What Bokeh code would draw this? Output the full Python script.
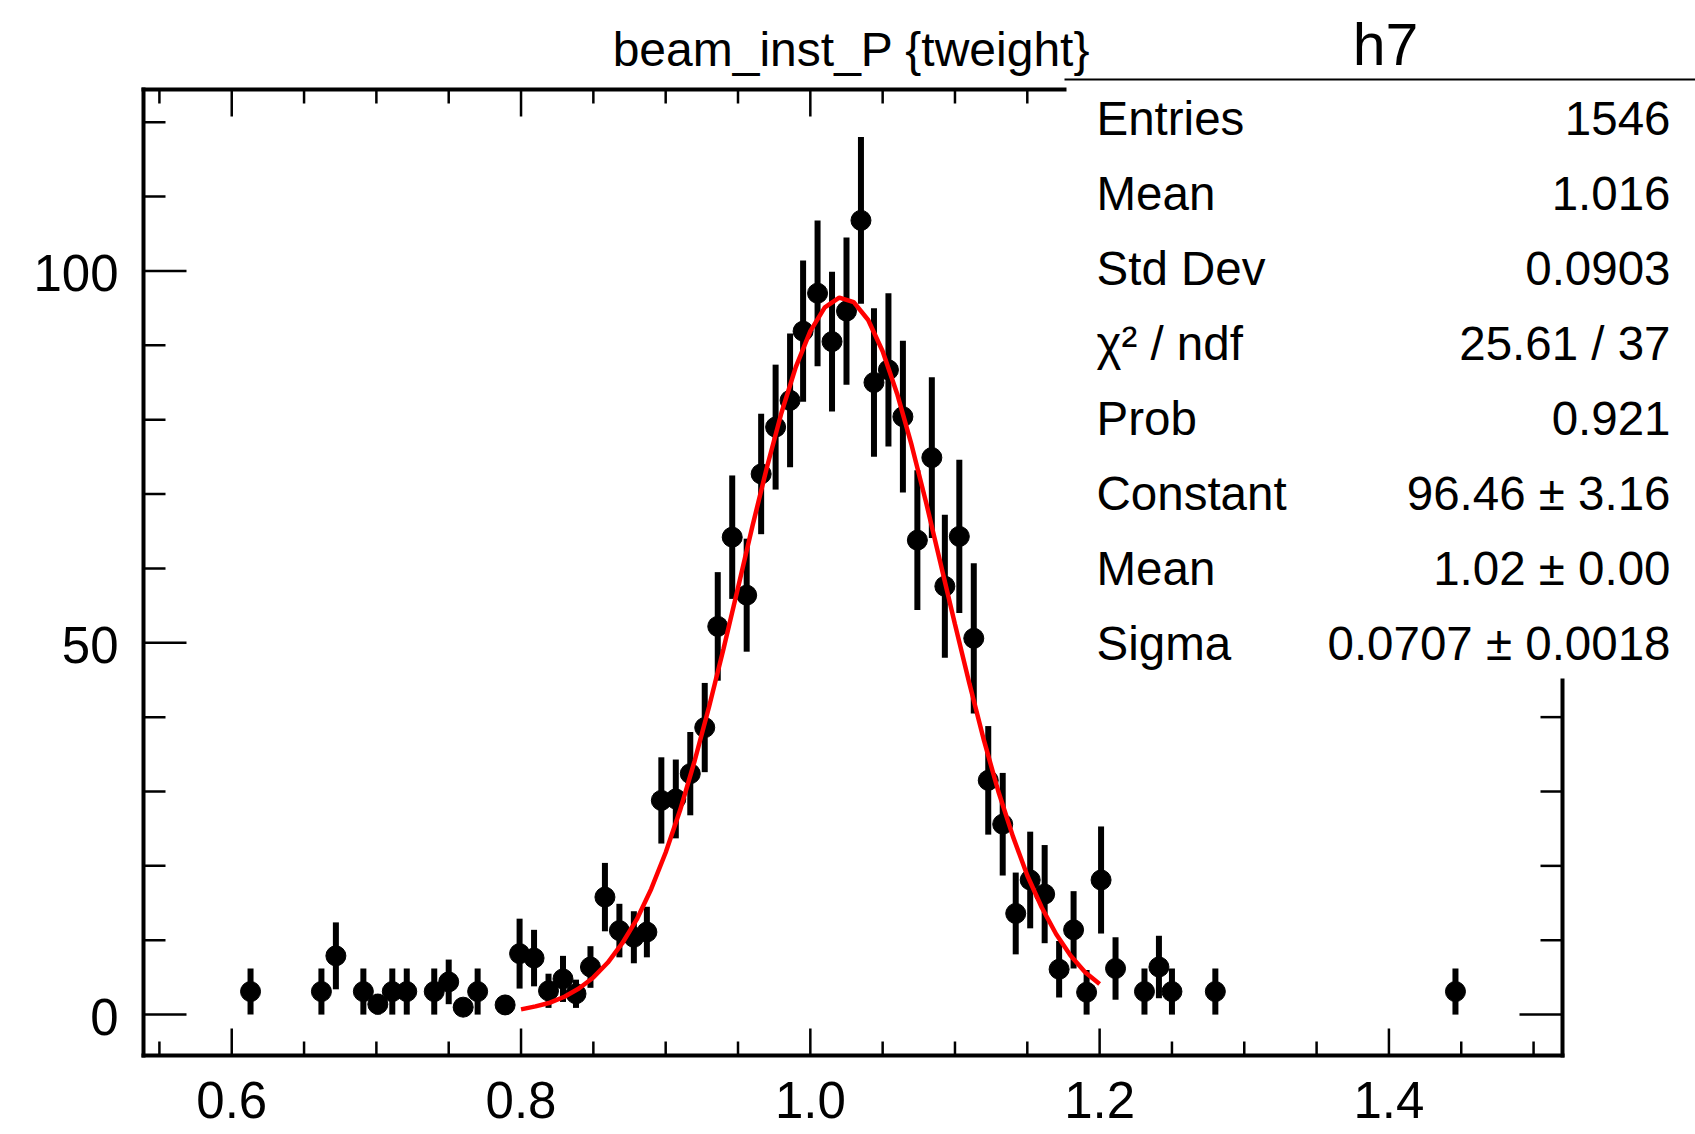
from bokeh.plotting import figure
from bokeh.models import Range1d, ColumnDataSource
from bokeh.core.properties import value
from bokeh.embed import file_html
from bokeh.resources import INLINE

# ---------------- data ----------------
bin_x = [0.613, 0.662, 0.672, 0.691, 0.701, 0.711, 0.721, 0.740, 0.750, 0.760,
         0.770, 0.789, 0.799, 0.809, 0.819, 0.829, 0.838, 0.848, 0.858, 0.868,
         0.878, 0.887, 0.897, 0.907, 0.917, 0.927, 0.936, 0.946, 0.956, 0.966,
         0.976, 0.986, 0.995, 1.005, 1.015, 1.025, 1.035, 1.044, 1.054, 1.064,
         1.074, 1.084, 1.093, 1.103, 1.113, 1.123, 1.133, 1.142, 1.152, 1.162,
         1.172, 1.182, 1.191, 1.201, 1.211, 1.231, 1.241, 1.250, 1.280, 1.446]
bin_y = [3.1, 3.1, 7.9, 3.1, 1.4, 3.1, 3.1, 3.1, 4.4, 1.0,
         3.1, 1.3, 8.2, 7.6, 3.2, 4.8, 2.8, 6.4, 15.8, 11.3,
         10.4, 11.1, 28.8, 29.0, 32.4, 38.6, 52.2, 64.2, 56.4, 72.7,
         79.0, 82.6, 91.9, 97.0, 90.5, 94.6, 106.8, 85.0, 86.7, 80.4,
         63.8, 74.9, 57.6, 64.3, 50.6, 31.5, 25.6, 13.6, 18.1, 16.2,
         6.1, 11.4, 3.0, 18.1, 6.2, 3.1, 6.4, 3.1, 3.1, 3.1]
bin_err = [3.1, 3.1, 4.5, 3.1, 1.4, 3.1, 3.1, 3.1, 3.0, 1.0,
           3.1, 1.3, 4.7, 3.8, 2.3, 3.1, 1.9, 2.8, 4.6, 3.6,
           3.5, 3.4, 5.8, 5.3, 5.6, 6.0, 7.3, 8.3, 7.6, 8.1,
           8.4, 9.0, 9.5, 9.8, 9.4, 9.9, 11.2, 10.0, 10.3, 10.2,
           9.4, 10.8, 9.6, 10.3, 10.1, 7.3, 6.9, 5.5, 6.5, 6.6,
           3.8, 5.2, 3.0, 7.2, 4.2, 3.1, 4.2, 3.1, 3.1, 3.1]

fit_x = [0.80, 0.81, 0.82, 0.83, 0.84, 0.85, 0.86, 0.87, 0.88, 0.89, 0.90,
         0.91, 0.92, 0.93, 0.94, 0.95, 0.96, 0.97, 0.98, 0.99, 1.00,
         1.01, 1.02, 1.03, 1.04, 1.05, 1.06, 1.07, 1.08, 1.09, 1.10,
         1.11, 1.12, 1.13, 1.14, 1.15, 1.16, 1.17, 1.18, 1.19, 1.20]
fit_y = [0.7, 1.1, 1.6, 2.4, 3.5, 5.0, 7.0, 9.6, 12.8, 16.9, 21.8,
         27.5, 34.1, 41.4, 49.2, 57.4, 65.7, 73.6, 80.9, 87.1, 91.9,
         95.1, 96.4, 95.8, 93.4, 89.2, 83.5, 76.6, 68.9, 60.7, 52.5,
         44.5, 36.9, 30.0, 24.0, 18.7, 14.4, 10.8, 7.9, 5.7, 4.1]

x_major = [0.6, 0.8, 1.0, 1.2, 1.4]
x_major_labels = ["0.6", "0.8", "1.0", "1.2", "1.4"]
x_minor = [0.55, 0.65, 0.70, 0.75, 0.85, 0.90, 0.95, 1.05,
           1.10, 1.15, 1.25, 1.30, 1.35, 1.45, 1.50]
y_major = [0, 50, 100]
y_major_labels = ["0", "50", "100"]
y_minor = [10, 20, 30, 40, 60, 70, 80, 90, 110, 120]

title_text = "beam_inst_P {tweight}"
hist_name = "h7"
stat_labels = ["Entries", "Mean", "Std Dev", "\u03c7\u00b2 / ndf", "Prob",
               "Constant", "Mean", "Sigma"]
stat_values = ["1546", "1.016", "0.0903", "25.61 / 37", "0.921",
               "96.46 \u00b1 3.16", "1.02 \u00b1 0.00", "0.0707 \u00b1 0.0018"]

# ---------------- layout (pixels of the 1695x1134 canvas) ----------------
W, H = 1695, 1134
FL, FR, FT, FB = 143, 1562, 89, 1055          # frame edges
XMIN, XMAX = 0.539, 1.520                      # axis ranges of the frame
YMIN, YMAX = -5.5, 124.4
BOX_L, BOX_T, BOX_B = 1064, 79, 680            # statistics box edges
FONT = "Liberation Sans"

PPX = (FR - FL) / (XMAX - XMIN)
PPY = (FB - FT) / (YMAX - YMIN)


def px2x(X):
    return XMIN + (X - FL) / PPX


def px2y(Y):
    return YMAX - (Y - FT) / PPY


def x2px(x):
    return FL + (x - XMIN) * PPX


def y2px(y):
    return FT + (YMAX - y) * PPY


p = figure(width=W, height=H, x_range=Range1d(px2x(0), px2x(W)),
           y_range=Range1d(px2y(H), px2y(0)),
           x_axis_type=None, y_axis_type=None,
           output_backend="svg", toolbar_location=None, min_border=0)
p.background_fill_color = "white"
p.border_fill_color = "white"
p.outline_line_color = None

box_x = px2x(BOX_L)
box_y = px2y(BOX_B)

# ---------------- frame ----------------
fx0 = [XMIN, XMIN, XMIN, XMAX]
fy0 = [YMIN, YMIN, YMAX, YMIN]
fx1 = [XMAX, XMIN, box_x, XMAX]
fy1 = [YMIN, YMAX, YMAX, box_y]
p.segment(x0=fx0, y0=fy0, x1=fx1, y1=fy1, line_color="black", line_width=4,
          line_cap="square")

# ---------------- ticks ----------------
XMAJ, XMIN_LEN = 27 / PPY, 14 / PPY     # x-axis tick lengths (data units of y)
YMAJ, YMIN_LEN = 43 / PPX, 22 / PPX     # y-axis tick lengths (data units of x)

tx0, ty0, tx1, ty1 = [], [], [], []
for ticks, ln in ((x_major, XMAJ), (x_minor, XMIN_LEN)):
    for t in ticks:
        tx0.append(t); ty0.append(YMIN); tx1.append(t); ty1.append(YMIN + ln)
        if x2px(t) < BOX_L:
            tx0.append(t); ty0.append(YMAX); tx1.append(t); ty1.append(YMAX - ln)
for ticks, ln in ((y_major, YMAJ), (y_minor, YMIN_LEN)):
    for t in ticks:
        tx0.append(XMIN); ty0.append(t); tx1.append(XMIN + ln); ty1.append(t)
        if y2px(t) > BOX_B:
            tx0.append(XMAX); ty0.append(t); tx1.append(XMAX - ln); ty1.append(t)
p.segment(x0=tx0, y0=ty0, x1=tx1, y1=ty1, line_color="black", line_width=2.5)

# tick labels
p.text(x=x_major, y=[px2y(1099)] * len(x_major), text=x_major_labels,
       text_align="center", text_baseline="middle", text_font=value(FONT),
       text_font_size=value("51px"), text_color="black")
p.text(x=[px2x(118)] * len(y_major), y=[px2y(y2px(v) + 2) for v in y_major],
       text=y_major_labels, text_align="right", text_baseline="middle",
       text_font=value(FONT), text_font_size=value("51px"), text_color="black")

# ---------------- histogram points ----------------
src = ColumnDataSource(dict(x=bin_x, y=bin_y,
                            lo=[v - e for v, e in zip(bin_y, bin_err)],
                            hi=[v + e for v, e in zip(bin_y, bin_err)]))
p.segment(x0="x", y0="lo", x1="x", y1="hi", source=src, line_color="black", line_width=6)
p.scatter(x="x", y="y", source=src, size=20, marker="circle",
          fill_color="black", line_color="black")

# ---------------- fit ----------------
p.line(fit_x, fit_y, line_color="#ff0000", line_width=4.5)

# ---------------- statistics box ----------------
p.segment(x0=[box_x], y0=[px2y(BOX_T)], x1=[px2x(W)], y1=[px2y(BOX_T)],
          line_color="black", line_width=2)
row_y = [px2y(117.5 + 75.1 * k) for k in range(len(stat_labels))]
p.text(x=[px2x(1096)] * len(stat_labels), y=row_y, text=stat_labels,
       text_align="left", text_baseline="middle", text_font=value(FONT),
       text_font_size=value("47.5px"), text_color="black")
p.text(x=[px2x(1670)] * len(stat_values), y=row_y, text=stat_values,
       text_align="right", text_baseline="middle", text_font=value(FONT),
       text_font_size=value("47.5px"), text_color="black")

# ---------------- titles ----------------
p.text(x=[px2x(851)], y=[px2y(48.5)], text=[title_text], text_align="center",
       text_baseline="middle", text_font=value(FONT), text_font_size=value("48px"),
       text_color="black")
p.text(x=[px2x(1385)], y=[px2y(44)], text=[hist_name], text_align="center",
       text_baseline="middle", text_font=value(FONT), text_font_size=value("59px"),
       text_color="black")

open("out.html", "w").write(file_html(p, INLINE))
